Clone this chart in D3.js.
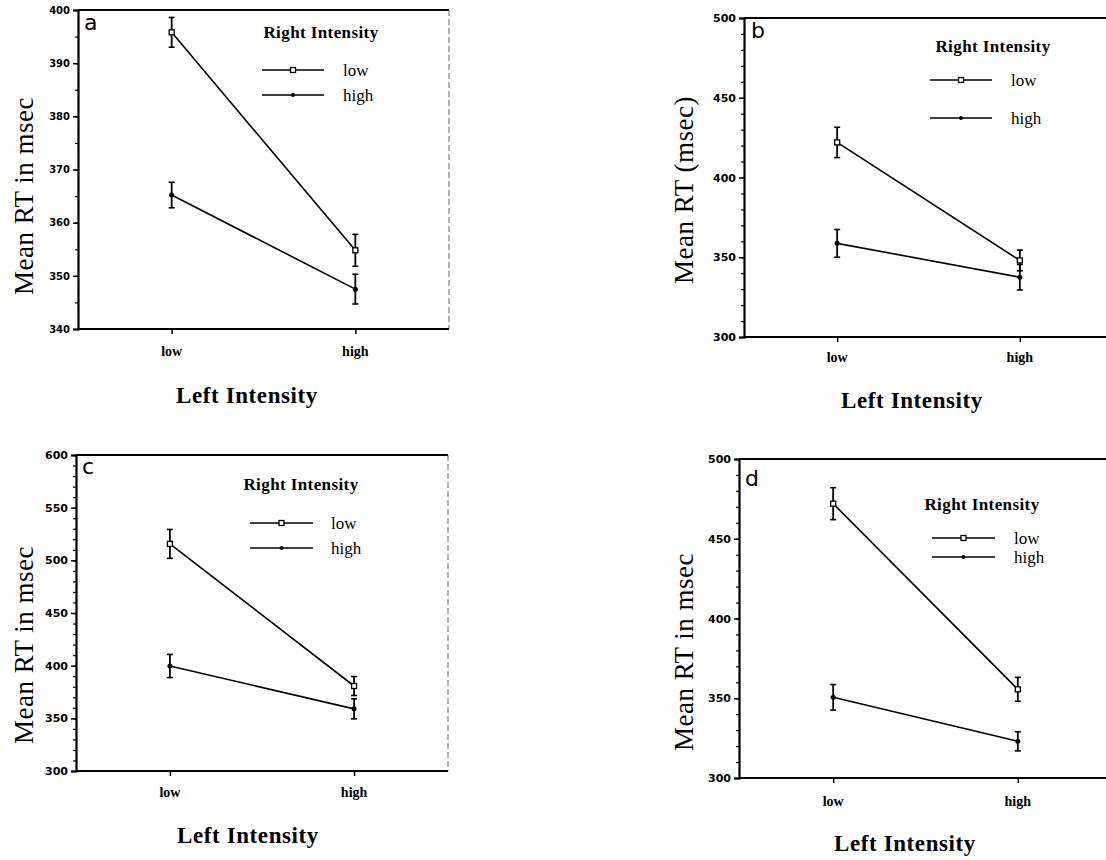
<!DOCTYPE html>
<html>
<head>
<meta charset="utf-8">
<script src="https://cdn.jsdelivr.net/npm/d3@7"></script>
<style>
html,body{margin:0;padding:0;background:#fff;}
svg{display:block;}
</style>
</head>
<body>
<svg id="chart" width="1106" height="860"></svg>
<script>
// ---------- data ----------
const categories = ["low", "high"];            // Left Intensity
const seriesNames = ["low", "high"];           // Right Intensity
const panelLetters = ["a", "b", "c", "d"];
const yTitles = ["Mean RT in msec", "Mean RT (msec)", "Mean RT in msec", "Mean RT in msec"];
const yDomains = [[340, 400], [300, 500], [300, 600], [300, 500]];
const yTickValues = [
  [340, 350, 360, 370, 380, 390, 400],
  [300, 350, 400, 450, 500],
  [300, 350, 400, 450, 500, 550, 600],
  [300, 350, 400, 450, 500]
];
const minorSteps = [5, 10, 10, 10];
// mean RT for Right=low, at Left low/high
const rightLowMeans = [[395.8, 354.8], [422, 348], [515.6, 380.7], [472, 355.6]];
const rightLowErr   = [[2.8, 3.0], [9.5, 6.5], [13.7, 9.0], [10.0, 7.5]];
// mean RT for Right=high
const rightHighMeans = [[365.2, 347.5], [358.7, 337.5], [399.7, 359.0], [350.6, 323.0]];
const rightHighErr   = [[2.4, 2.8], [8.7, 8.0], [11.0, 9.5], [8.0, 6.0]];

// ---------- layout ----------
const layout = [
  {x0: 78,  x1: 449,  yTop: 10,  yBot: 329, frameRight: true,  yLab: [33, 196],  xLab: [247, 403], tickY: 356,
   letter: [84, 30], legT: [321, 38], legL: [262, 324, 70, 95], legTx: 343},
  {x0: 744, x1: 1113, yTop: 18,  yBot: 337, frameRight: false, yLab: [693, 190], xLab: [912, 408], tickY: 362,
   letter: [751, 38], legT: [993, 52], legL: [930, 992, 80, 118], legTx: 1011},
  {x0: 76,  x1: 448,  yTop: 455, yBot: 771, frameRight: true,  yLab: [33, 645],  xLab: [248, 843], tickY: 797,
   letter: [82, 474], legT: [301, 490], legL: [250, 313, 523, 548], legTx: 331},
  {x0: 739, x1: 1112, yTop: 459, yBot: 778, frameRight: false, yLab: [693, 652], xLab: [905, 851], tickY: 806,
   letter: [745, 486], legT: [982, 510], legL: [932, 995, 538, 557], legTx: 1014}
];

const svg = d3.select("#chart");
const serif = "'Liberation Serif', 'DejaVu Serif', serif";
const sans = "'DejaVu Sans', 'Liberation Sans', sans-serif";

panelLetters.forEach((letter, i) => {
  const L = layout[i];
  const g = svg.append("g");
  const x = d3.scalePoint().domain(categories).range([L.x0, L.x1]).padding(0.51);
  const y = d3.scaleLinear().domain(yDomains[i]).range([L.yBot, L.yTop]);

  // frame top & right
  g.append("line").attr("x1", L.x0).attr("x2", L.x1).attr("y1", L.yTop).attr("y2", L.yTop)
    .attr("stroke", "#000").attr("stroke-width", 2);
  if (L.frameRight) {
    g.append("line").attr("x1", L.x1).attr("x2", L.x1).attr("y1", L.yTop).attr("y2", L.yBot)
      .attr("stroke", "#666").attr("stroke-width", 1).attr("stroke-dasharray", "6,3");
  }

  // minor ticks on y axis
  const [d0, d1] = yDomains[i];
  const minors = d3.range(d0, d1 + 0.001, minorSteps[i]);
  const yMinor = d3.axisLeft(y).tickValues(minors).tickSize(3).tickFormat("");
  const gm = g.append("g").attr("transform", `translate(${L.x0},0)`).call(yMinor);
  gm.select(".domain").remove();
  gm.selectAll("line").attr("stroke", "#000").attr("stroke-width", 1.2);

  // y axis with major ticks
  const yAxis = d3.axisLeft(y).tickValues(yTickValues[i]).tickSize(5).tickPadding(3).tickFormat(d3.format("d"));
  const gy = g.append("g").attr("transform", `translate(${L.x0},0)`).call(yAxis);
  gy.select(".domain").attr("stroke", "#000").attr("stroke-width", 2.2);
  gy.selectAll("line").attr("stroke", "#000").attr("stroke-width", 1.5);
  gy.selectAll("text").attr("font-family", sans).attr("font-size", i === 0 ? 10 : 11)
    .attr("font-weight", "bold").attr("fill", "#000");

  // x axis
  const xAxis = d3.axisBottom(x).tickSize(5).tickFormat(() => "");
  const gx = g.append("g").attr("transform", `translate(0,${L.yBot})`).call(xAxis);
  gx.select(".domain").attr("stroke", "#000").attr("stroke-width", 2.2).attr("d", `M${L.x0},0H${L.x1}`);
  gx.selectAll("line").attr("stroke", "#000").attr("stroke-width", 1.5);
  // x tick labels
  g.selectAll(".xtl").data(categories).enter().append("text")
    .attr("x", d => x(d)).attr("y", L.tickY).attr("text-anchor", "middle")
    .attr("font-family", serif).attr("font-size", 14).attr("font-weight", "bold").attr("fill", "#000")
    .text(d => d);

  // axis titles
  g.append("text").attr("transform", `translate(${L.yLab[0]},${L.yLab[1]}) rotate(-90)`)
    .attr("text-anchor", "middle").attr("font-family", serif).attr("font-size", 27).attr("fill", "#000")
    .attr("letter-spacing", 0.5)
    .text(yTitles[i]);
  g.append("text").attr("x", L.xLab[0]).attr("y", L.xLab[1]).attr("text-anchor", "middle")
    .attr("font-family", serif).attr("font-size", 23).attr("font-weight", "bold").attr("fill", "#000")
    .attr("letter-spacing", 0.6)
    .text("Left Intensity");

  // panel letter
  g.append("text").attr("x", L.letter[0]).attr("y", L.letter[1]).attr("font-family", sans)
    .attr("font-size", 22).attr("fill", "#000").text(letter);

  // series
  const series = [
    {name: seriesNames[0], means: rightLowMeans[i], errs: rightLowErr[i], marker: "square"},
    {name: seriesNames[1], means: rightHighMeans[i], errs: rightHighErr[i], marker: "dot"}
  ];
  const line = d3.line().x((d, k) => x(categories[k])).y(d => y(d));
  series.forEach(s => {
    g.append("path").datum(s.means).attr("d", line).attr("fill", "none")
      .attr("stroke", "#000").attr("stroke-width", 1.6);
    // error bars
    s.means.forEach((m, k) => {
      const cx = x(categories[k]);
      const e = s.errs[k];
      g.append("line").attr("x1", cx).attr("x2", cx).attr("y1", y(m - e)).attr("y2", y(m + e))
        .attr("stroke", "#000").attr("stroke-width", 1.8);
      [m - e, m + e].forEach(v => {
        g.append("line").attr("x1", cx - 3).attr("x2", cx + 3).attr("y1", y(v)).attr("y2", y(v))
          .attr("stroke", "#000").attr("stroke-width", 1.6);
      });
      if (s.marker === "square") {
        g.append("rect").attr("x", cx - 2.5).attr("y", y(m) - 2.5).attr("width", 5).attr("height", 5)
          .attr("fill", "#fff").attr("stroke", "#000").attr("stroke-width", 1.3);
      } else {
        g.append("circle").attr("cx", cx).attr("cy", y(m)).attr("r", 2.5).attr("fill", "#000");
      }
    });
  });

  // legend
  g.append("text").attr("x", L.legT[0]).attr("y", L.legT[1]).attr("text-anchor", "middle")
    .attr("font-family", serif).attr("font-size", 17).attr("font-weight", "bold").attr("fill", "#000")
    .attr("letter-spacing", 0.4)
    .text("Right  Intensity");
  const [lx0, lx1, ly0, ly1] = L.legL;
  series.forEach((s, k) => {
    const ly = k === 0 ? ly0 : ly1;
    const mx = (lx0 + lx1) / 2;
    g.append("line").attr("x1", lx0).attr("x2", lx1).attr("y1", ly).attr("y2", ly)
      .attr("stroke", "#000").attr("stroke-width", 1.6);
    if (s.marker === "square") {
      g.append("rect").attr("x", mx - 2.5).attr("y", ly - 2.5).attr("width", 5).attr("height", 5)
        .attr("fill", "#fff").attr("stroke", "#000").attr("stroke-width", 1.3);
    } else {
      g.append("circle").attr("cx", mx).attr("cy", ly).attr("r", 2).attr("fill", "#000");
    }
    g.append("text").attr("x", L.legTx).attr("y", ly + 6).attr("font-family", serif)
      .attr("font-size", 17).attr("fill", "#000").text(s.name);
  });
});
</script>
</body>
</html>
